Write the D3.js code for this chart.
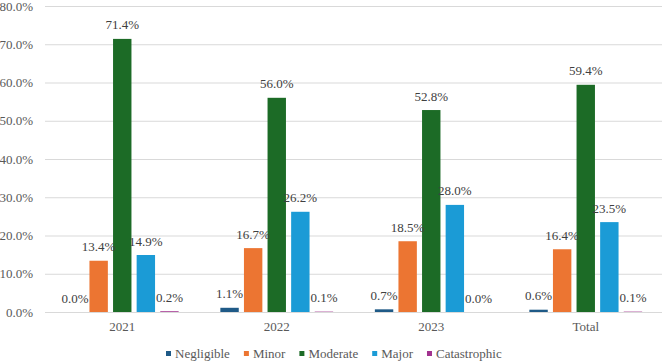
<!DOCTYPE html>
<html><head><meta charset="utf-8">
<script src="https://cdn.jsdelivr.net/npm/d3@7"></script>
<style>body{margin:0;background:#fff}svg{display:block}</style>
</head><body>
<svg id="c" width="662" height="362" font-family="Liberation Serif" font-size="13"></svg>
<script>
const categories = ["2021", "2022", "2023", "Total"];
const seriesNames = ["Negligible", "Minor", "Moderate", "Major", "Catastrophic"];
const negligible = [0.0, 1.1, 0.7, 0.6];
const minor = [13.4, 16.7, 18.5, 16.4];
const moderate = [71.4, 56.0, 52.8, 59.4];
const major = [14.9, 26.2, 28.0, 23.5];
const catastrophic = [0.2, 0.1, 0.0, 0.1];
const yTicks = [0, 10, 20, 30, 40, 50, 60, 70, 80];
const colors = ["#1f5a87", "#ec7532", "#1c6b26", "#1b9bd6", "#a1328f"];

(function () {
const allValues = [negligible, minor, moderate, major, catastrophic];
const svg = d3.select("#c");
const F = "Liberation Serif";
const mLeft = 45, mRight = 663, mTop = 6, mBottom = 312;

const y = d3.scaleLinear().domain([0, 80]).range([mBottom, mTop]);
const x0 = d3.scaleBand().domain(categories).range([mLeft, mRight]).paddingInner(0.27).paddingOuter(0.135);
const x1 = d3.scaleBand().domain(seriesNames).range([0, x0.bandwidth()]).paddingInner(0.22).paddingOuter(0);

svg.append("g").selectAll("line").data(yTicks).join("line")
  .attr("x1", mLeft).attr("x2", mRight)
  .attr("y1", d => y(d) + 0.5).attr("y2", d => y(d) + 0.5)
  .attr("stroke", "#d9d9d9").attr("stroke-width", 1);

const yAxis = d3.axisLeft(y).tickValues(yTicks).tickSize(0).tickPadding(0).tickFormat(d => d.toFixed(1) + "%");
const gy = svg.append("g").attr("transform", "translate(33,0)").call(yAxis);
gy.select(".domain").remove();
gy.attr("font-family", F).attr("font-size", 13);
gy.selectAll("text").attr("fill", "#595959");

const xAxis = d3.axisBottom(x0).tickSize(0).tickPadding(0);
const gx = svg.append("g").attr("transform", `translate(0,${mBottom + 9.5})`).call(xAxis);
gx.select(".domain").remove();
gx.attr("font-family", F).attr("font-size", 13);
gx.selectAll("text").attr("fill", "#595959");

const data = [];
categories.forEach((c, i) => seriesNames.forEach((s, j) => data.push({c, s, j, v: allValues[j][i]})));
const g = svg.append("g");
g.selectAll("rect").data(data).join("rect")
  .attr("x", d => x0(d.c) + x1(d.s))
  .attr("y", d => y(d.v))
  .attr("width", x1.bandwidth())
  .attr("height", d => mBottom - y(d.v))
  .attr("fill", d => colors[d.j]);

g.selectAll("text").data(data).join("text")
  .attr("x", d => x0(d.c) + x1(d.s) + x1.bandwidth() / 2)
  .attr("y", d => y(d.v) - 9.5)
  .attr("text-anchor", "middle")
  .attr("font-family", F).attr("font-size", 13)
  .attr("fill", "#404040")
  .text(d => d.v.toFixed(1) + "%");

const leg = svg.append("g");
let lx = 166;
seriesNames.forEach((s, j) => {
  leg.append("rect").attr("x", lx).attr("y", 351).attr("width", 5).attr("height", 5).attr("fill", colors[j]);
  const t = leg.append("text").attr("x", lx + 9).attr("y", 357.5)
    .attr("font-family", F).attr("font-size", 13)
    .attr("fill", "#595959").text(s);
  lx = lx + 9 + t.node().getComputedTextLength() + 14;
});
})();
</script>
</body></html>
